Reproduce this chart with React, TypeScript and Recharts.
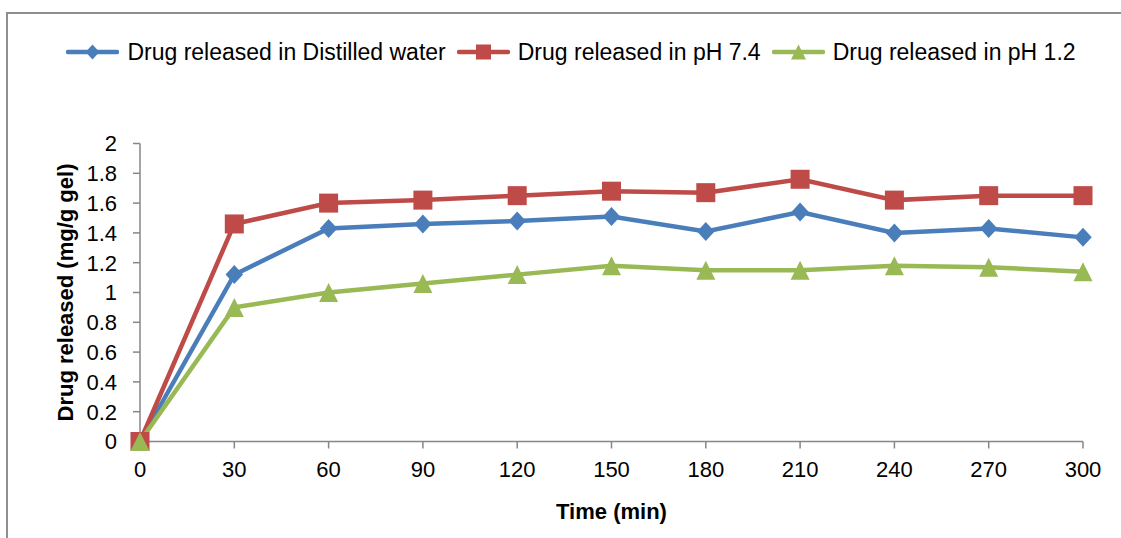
import React from 'react';
import { LineChart, Line, XAxis, YAxis, Legend } from 'recharts';

const times = [0, 30, 60, 90, 120, 150, 180, 210, 240, 270, 300];
const distilled = [0, 1.12, 1.43, 1.46, 1.48, 1.51, 1.41, 1.54, 1.4, 1.43, 1.37];
const ph74 = [0, 1.46, 1.6, 1.62, 1.65, 1.68, 1.67, 1.76, 1.62, 1.65, 1.65];
const ph12 = [0, 0.9, 1.0, 1.06, 1.12, 1.18, 1.15, 1.15, 1.18, 1.17, 1.14];
const yTicks = [0, 0.2, 0.4, 0.6, 0.8, 1, 1.2, 1.4, 1.6, 1.8, 2];
const seriesNames = [
  'Drug released in Distilled water',
  'Drug released in pH 7.4',
  'Drug released in pH 1.2',
];

const data = times.map((t, i) => ({
  time: t,
  distilled: distilled[i],
  ph74: ph74[i],
  ph12: ph12[i],
}));

const BLUE = '#4a7ebb';
const RED = '#be4b48';
const GREEN = '#98b954';
const AXIS = '#868686';
const FONT = '"Liberation Sans", Arial, sans-serif';

type Shape = 'diamond' | 'square' | 'triangle';

function marker(shape: Shape, cx: number, cy: number, r: number, color: string, key?: any) {
  if (shape === 'diamond') {
    const w = r * 0.92;
    return (
      <polygon key={key} points={`${cx},${cy - r} ${cx + w},${cy} ${cx},${cy + r} ${cx - w},${cy}`} fill={color} />
    );
  }
  if (shape === 'square') {
    return <rect key={key} x={cx - r} y={cy - r} width={2 * r} height={2 * r} fill={color} />;
  }
  return (
    <polygon key={key} points={`${cx},${cy - r} ${cx + r},${cy + r} ${cx - r},${cy + r}`} fill={color} />
  );
}

const makeDot = (shape: Shape, color: string) => (props: any) => {
  const { cx, cy, index } = props;
  if (cx == null || cy == null) return <g key={`e-${index}`} />;
  return marker(shape, cx, cy, 9.5, color, `${shape}-${index}`);
};

const legendItems: { name: string; color: string; shape: Shape }[] = [
  { name: seriesNames[0], color: BLUE, shape: 'diamond' },
  { name: seriesNames[1], color: RED, shape: 'square' },
  { name: seriesNames[2], color: GREEN, shape: 'triangle' },
];

const renderLegend = () => (
  <div
    style={{
      display: 'flex',
      justifyContent: 'center',
      alignItems: 'center',
      fontFamily: FONT,
      fontSize: 23,
      color: '#000',
      paddingLeft: 21,
      lineHeight: '26px',
    }}
  >
    {legendItems.map((it, i) => (
      <div key={i} style={{ display: 'flex', alignItems: 'center', marginRight: i < 2 ? 11 : 0 }}>
        <svg width={53} height={20} style={{ marginRight: 8 }}>
          <line x1={2} y1={10} x2={51} y2={10} stroke={it.color} strokeWidth={4.5} strokeLinecap="round" />
          {marker(it.shape, 26.5, 10, 7.5, it.color)}
        </svg>
        <span style={{ whiteSpace: 'nowrap' }}>{it.name}</span>
      </div>
    ))}
  </div>
);

export default function App() {
  return (
    <div
      style={{
        position: 'absolute',
        left: 0,
        top: 0,
        width: 1121,
        height: 538,
        overflow: 'hidden',
        background: '#fff',
      }}
    >
      <div
        style={{
          position: 'absolute',
          left: 6,
          top: 12,
          width: 1300,
          height: 700,
          border: `2px solid #8f8f8f`,
        }}
      />
      <div style={{ position: 'absolute', left: 0, top: 0 }}>
        <LineChart
          width={1121}
          height={538}
          data={data}
          margin={{ top: 143.5, right: 38, bottom: 11.5, left: 60 }}
        >
          <XAxis
            dataKey="time"
            type="category"
            height={85}
            stroke={AXIS}
            strokeWidth={1.5}
            tickSize={7}
            tickMargin={13}
            tick={{ fill: '#000', fontSize: 22, fontFamily: FONT }}
            tickLine={{ stroke: AXIS, strokeWidth: 1.5 }}
            interval={0}
            label={{
              value: 'Time (min)',
              position: 'insideBottom',
              offset: 7.5,
              style: { fontFamily: FONT, fontSize: 22, fontWeight: 'bold', fill: '#000' },
            }}
          />
          <YAxis
            type="number"
            domain={[0, 2]}
            ticks={yTicks}
            width={80}
            stroke={AXIS}
            strokeWidth={1.5}
            tickSize={7}
            tickMargin={16}
            interval={0}
            tickFormatter={(v: number) => String(Number(v.toFixed(1)))}
            tick={{ fill: '#000', fontSize: 22, fontFamily: FONT }}
            tickLine={{ stroke: AXIS, strokeWidth: 1.5 }}
            label={{
              value: 'Drug released (mg/g gel)',
              angle: -90,
              position: 'insideLeft',
              offset: 5,
              style: { textAnchor: 'middle', fontFamily: FONT, fontSize: 22, fontWeight: 'bold', fill: '#000' },
            }}
          />
          <Legend
            verticalAlign="middle"
            align="center"
            layout="horizontal"
            content={renderLegend}
            wrapperStyle={{ top: 39, left: 0, width: 1121 }}
          />
          <Line
            type="linear"
            dataKey="distilled"
            name={seriesNames[0]}
            stroke={BLUE}
            strokeWidth={4.5}
            dot={makeDot('diamond', BLUE)}
            activeDot={false}
            isAnimationActive={false}
          />
          <Line
            type="linear"
            dataKey="ph74"
            name={seriesNames[1]}
            stroke={RED}
            strokeWidth={4.5}
            dot={makeDot('square', RED)}
            activeDot={false}
            isAnimationActive={false}
          />
          <Line
            type="linear"
            dataKey="ph12"
            name={seriesNames[2]}
            stroke={GREEN}
            strokeWidth={4.5}
            dot={makeDot('triangle', GREEN)}
            activeDot={false}
            isAnimationActive={false}
          />
        </LineChart>
      </div>
    </div>
  );
}
